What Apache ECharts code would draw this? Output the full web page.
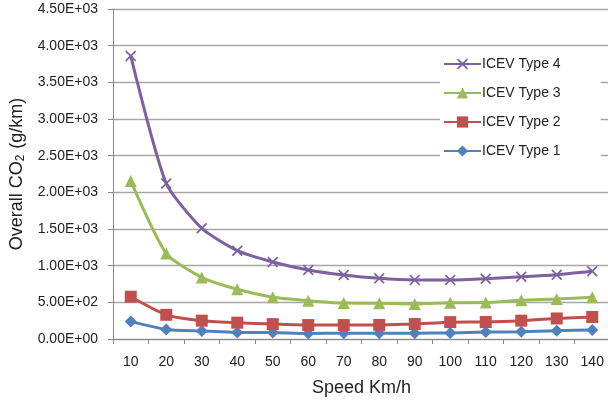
<!DOCTYPE html>
<html>
<head>
<meta charset="utf-8">
<script src="https://cdn.jsdelivr.net/npm/echarts@6/dist/echarts.min.js"></script>
<style>html,body{margin:0;padding:0;background:#fff;}#c{width:608px;height:404px;}</style>
</head>
<body>
<div id="c"></div>
<script>
const categories = ['10','20','30','40','50','60','70','80','90','100','110','120','130','140'];
const type1 = [240, 130, 110, 90, 88, 75, 80, 80, 80, 82, 95, 98, 113, 123];
const type2 = [577, 330, 250, 223, 203, 190, 190, 192, 204, 230, 232, 250, 280, 300];
const type3 = [2155, 1165, 840, 678, 570, 523, 490, 487, 477, 495, 497, 530, 545, 570];
const type4 = [3860, 2120, 1510, 1204, 1050, 941, 873, 827, 806, 806, 822, 850, 877, 923];
const seriesNames = ['ICEV Type 4', 'ICEV Type 3', 'ICEV Type 2', 'ICEV Type 1'];
const yMin = 0, yMax = 4500, yStep = 500;

function sci(v) {
  const parts = v.toExponential(2).split('e');
  let e = parseInt(parts[1], 10);
  const sign = e < 0 ? '-' : '+';
  e = Math.abs(e);
  return parts[0] + 'E' + sign + (e < 10 ? '0' + e : '' + e);
}

const font = 'Liberation Sans';
const xPath = 'path://M0,1.1L1.1,0L5,3.9L8.9,0L10,1.1L6.1,5L10,8.9L8.9,10L5,6.1L1.1,10L0,8.9L3.9,5Z';

function mk(name, data, color, symbol, size, z) {
  return {
    name: name, type: 'line', data: data, smooth: 0.2,
    symbol: symbol, symbolSize: size, showSymbol: true, z: z,
    lineStyle: { color: color, width: 3 },
    itemStyle: { color: color },
    emphasis: { disabled: true },
    animation: false
  };
}

const chart = echarts.init(document.getElementById('c'), null, { renderer: 'canvas' });
chart.setOption({
  animation: false,
  backgroundColor: '#fff',
  grid: { left: 113, top: 9, width: 497, height: 330, containLabel: false, outerBoundsMode: 'none' },
  legend: {
    data: seriesNames,
    orient: 'vertical',
    left: 440, top: 54,
    itemWidth: 37, itemHeight: 14, itemGap: 15,
    padding: [3, 40, 8, 3],
    backgroundColor: '#fff',
    textStyle: { fontFamily: font, fontSize: 14, color: '#222', padding: [0,0,0,-4] }
  },
  xAxis: {
    type: 'category', data: categories, boundaryGap: true,
    name: 'Speed Km/h', nameLocation: 'middle', nameGap: 40,
    nameTextStyle: { fontFamily: font, fontSize: 18, color: '#222' },
    axisLine: { lineStyle: { color: '#888', width: 1 } },
    axisTick: { show: true, length: 5, lineStyle: { color: '#888' }, alignWithLabel: false },
    axisLabel: { fontFamily: font, fontSize: 14, color: '#222', margin: 16 },
    splitLine: { show: false }
  },
  yAxis: {
    type: 'value', min: yMin, max: yMax, interval: yStep,
    name: 'Overall CO{sub|2} (g/km)', nameLocation: 'middle', nameGap: 86, nameRotate: 90,
    nameTextStyle: {
      fontFamily: font, fontSize: 18, color: '#222',
      rich: { sub: { fontFamily: font, fontSize: 12, color: '#222', verticalAlign: 'bottom', padding: [7,1,0,0] } }
    },
    axisLine: { show: true, lineStyle: { color: '#888', width: 1 } },
    axisTick: { show: true, length: 5, lineStyle: { color: '#888' } },
    axisLabel: { fontFamily: font, fontSize: 14, color: '#222', margin: 15, formatter: sci },
    splitLine: { show: true, lineStyle: { color: '#A6A6A6', width: 1.3 } }
  },
  series: [
    mk(seriesNames[0], type4, '#7D60A0', xPath, 11, 4),
    mk(seriesNames[1], type3, '#9BBB59', 'triangle', 12, 3),
    mk(seriesNames[2], type2, '#C0504D', 'rect', 12, 2),
    mk(seriesNames[3], type1, '#4F81BD', 'diamond', 12, 1)
  ]
});
</script>
</body>
</html>
